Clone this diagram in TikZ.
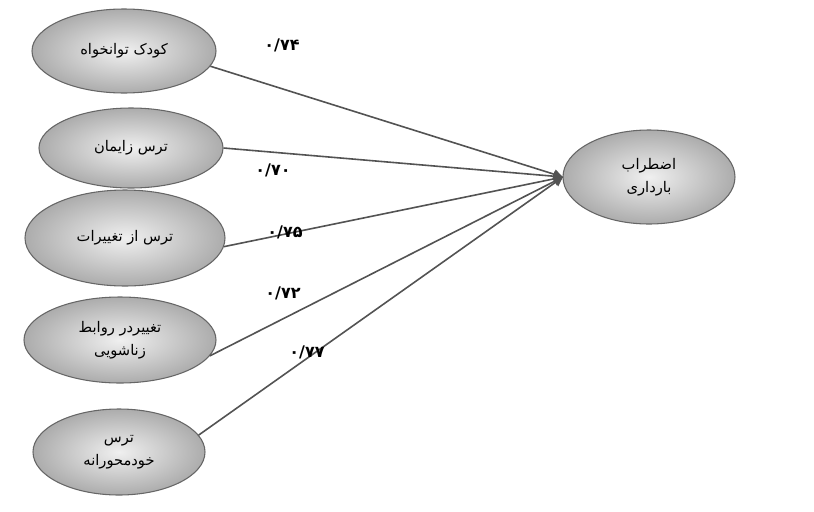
\documentclass[tikz,border=0pt]{standalone}
\usepackage{fontspec}
\newfontfamily\arabicfont[Script=Arabic]{DejaVu Sans}
\TeXXeTstate=1
\usetikzlibrary{shapes.geometric,arrows.meta}
\tikzset{
 bub/.style={ellipse, draw=gray!80!black, line width=0.8pt, inner color=gray!12, outer color=gray!65, font=\arabicfont\fontsize{11}{17}\selectfont, align=center},
 link/.style={draw=gray!65!black, line width=1.2pt, -{Triangle[length=7pt,width=7pt]}},
 lab/.style={font=\arabicfont\fontsize{12}{14}\selectfont\bfseries}
}
\begin{document}
\begin{tikzpicture}[x=0.75pt,y=-0.75pt]
\useasboundingbox (0,0) rectangle (814,511);
\node[bub, minimum width=184*0.75pt, minimum height=84*0.75pt] (a) at (124,51) {\beginR کودک توانخواه\endR};
\node[bub, minimum width=184*0.75pt, minimum height=80*0.75pt] (b) at (131,148) {\beginR ترس زایمان\endR};
\node[bub, minimum width=200*0.75pt, minimum height=96*0.75pt] (c) at (125,238) {\beginR ترس از تغییرات\endR};
\node[bub, minimum width=192*0.75pt, minimum height=86*0.75pt] (d) at (120,340) {\beginR تغییردر روابط\endR\\\beginR زناشویی\endR};
\node[bub, minimum width=172*0.75pt, minimum height=86*0.75pt] (e) at (119,452) {\beginR ترس\endR\\\beginR خودمحورانه\endR};
\node[bub, minimum width=172*0.75pt, minimum height=94*0.75pt] (t) at (649,177) {\beginR اضطراب\endR\\\beginR بارداری\endR};
\coordinate (tip) at (563,177);
\draw[link] (a.-10) -- (tip);
\draw[link] (b.east) -- (tip);
\draw[link] (c.-5) -- (tip);
\draw[link] (d.-10) -- (tip);
\draw[link] (e.12) -- (tip);
\node[lab] (l1) at (282,45) {۰/۷۴};
\node[lab] (l2) at (273,170) {۰/۷۰};
\node[lab] (l3) at (285,232) {۰/۷۵};
\node[lab] (l4) at (283,293) {۰/۷۲};
\node[lab] (l5) at (307,352) {۰/۷۷};
\end{tikzpicture}
\end{document}
